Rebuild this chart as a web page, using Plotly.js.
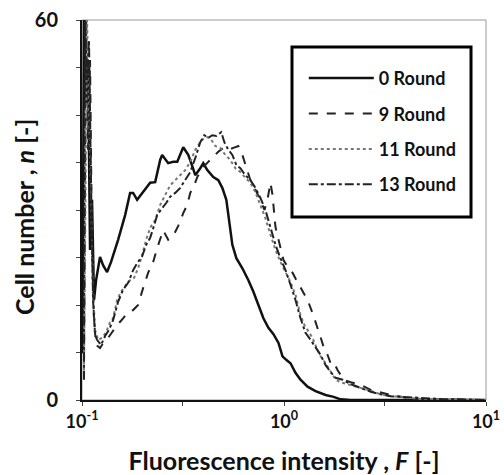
<!DOCTYPE html>
<html>
<head>
<meta charset="utf-8">
<script src="https://cdn.plot.ly/plotly-3.0.1.min.js"></script>
<style>html,body{margin:0;padding:0;background:#fff;}#chart{width:504px;height:475px;}</style>
</head>
<body>
<div id="chart"></div>
<script>
// Series names
const seriesNames = ['0 Round', '9 Round', '11 Round', '13 Round'];

// 0 Round
const F0 = [0.1005,0.1023,0.1047,0.1071,0.1096,0.1121,0.1147,0.1174,0.1228,0.1271,0.1331,0.1393,0.1509,0.1635,0.1730,0.1791,0.1875,0.2054,0.2175,0.2303,0.2438,0.2494,0.2671,0.2828,0.2961,0.3171,0.3357,0.3474,0.3636,0.3850,0.3985,0.4171,0.4467,0.4729,0.4950,0.5182,0.5363,0.5550,0.5809,0.6221,0.6663,0.7055,0.7470,0.7909,0.8374,0.8869,0.9390,0.9830,1.029,1.077,1.140,1.207,1.308,1.433,1.607,1.761,1.907,2.138,10];
const N0 = [7.4,60,47.4,53.7,23.7,31.6,15.8,18.9,22.6,21.3,20.2,21.8,25.3,29.2,32.7,32.7,31.6,33.2,34.3,34.4,37.9,38.7,37.4,37.6,37.6,39.9,38.7,37.4,35.5,36.6,37.4,36.3,35.2,34.7,33.5,31.6,28.4,24.5,22.4,20.8,18.9,17.1,15.0,12.9,11.4,10.4,9.0,6.9,6.3,5.8,4.3,3.2,2.1,1.4,0.8,0.5,0.1,0,0];

// 9 Round
const F9 = [0.1023,0.1047,0.1071,0.1096,0.1121,0.1147,0.1174,0.1228,0.1286,0.1346,0.1409,0.1492,0.1597,0.1691,0.1791,0.1896,0.2008,0.2126,0.2251,0.2356,0.2523,0.2671,0.2828,0.2995,0.3171,0.3319,0.3435,0.3595,0.3721,0.3985,0.4219,0.4467,0.4729,0.5007,0.5302,0.5613,0.5943,0.6221,0.6512,0.6817,0.7218,0.7642,0.8000,0.8279,0.8570,0.8769,0.9074,0.9498,0.9943,1.053,1.102,1.153,1.207,1.264,1.308,1.385,1.466,1.518,1.570,1.644,1.701,1.761,1.843,1.974,2.138,2.397,2.687,2.911,3.190,3.378,3.786,4.102,4.759,5.980,7.514,10];
const N9 = [6.3,60,39.5,53.7,23.7,12.6,8.7,8.2,9.2,9.8,10.7,11.8,12.9,13.9,14.2,15.0,17.7,20.1,21.8,24.0,26.8,25.3,25.9,27.5,29.5,30.8,32.7,33.9,35.2,36.8,37.6,38.4,39.2,39.8,39.5,39.8,40.1,38.7,36.6,34.7,33.2,31.6,30.0,31.6,34.3,32.4,27.3,24.5,22.1,20.8,20.1,18.9,17.8,16.6,15.8,13.7,11.5,9.9,8.4,7.1,5.8,6.0,4.7,3.2,2.8,2.4,1.6,1.3,0.9,0.8,0.5,0.3,0.16,0.1,0.1,0];

// 11 Round
const F11 = [0.1023,0.1047,0.1059,0.1083,0.1108,0.1134,0.1160,0.1201,0.1257,0.1316,0.1377,0.1425,0.1492,0.1561,0.1653,0.1730,0.1811,0.1896,0.1985,0.2078,0.2175,0.2303,0.2438,0.2581,0.2733,0.2894,0.3064,0.3244,0.3435,0.3636,0.3850,0.4030,0.4171,0.4366,0.4570,0.4839,0.5123,0.5424,0.5743,0.6081,0.6438,0.6817,0.7218,0.7642,0.8092,0.8570,0.9074,0.9607,1.017,1.077,1.140,1.207,1.264,1.323,1.385,1.450,1.518,1.607,1.701,1.801,1.907,2.066,2.264,2.596,3.013,3.378,3.786,4.759,6.704,10];
const N11 = [4.7,53.7,60,47.4,31.6,17.4,11.1,9.5,9.8,10.7,12.3,12.9,15.8,17.1,18.2,18.9,19.3,20.8,22.9,25.3,27.2,28.4,30.8,32.4,33.9,34.7,35.5,36.3,37.6,39.5,40.7,41.4,41.5,41.1,40.1,39.8,38.7,37.9,36.6,36.0,35.1,34.3,32.8,30.8,28.7,26.1,23.7,21.8,20.1,18.6,16.6,13.4,11.8,10.7,9.8,8.2,6.9,5.8,4.4,3.2,2.8,2.5,2.1,1.6,0.9,0.6,0.5,0.16,0.1,0];

// 13 Round
const F13 = [0.1023,0.1035,0.1059,0.1083,0.1108,0.1134,0.1160,0.1187,0.1243,0.1301,0.1361,0.1425,0.1509,0.1597,0.1691,0.1791,0.1875,0.1985,0.2078,0.2175,0.2277,0.2356,0.2494,0.2611,0.2733,0.2894,0.3064,0.3244,0.3435,0.3636,0.3850,0.4030,0.4219,0.4416,0.4622,0.4894,0.5065,0.5302,0.5550,0.5809,0.6081,0.6438,0.6817,0.7218,0.7642,0.8092,0.8570,0.9074,0.9607,1.017,1.077,1.140,1.207,1.278,1.354,1.433,1.518,1.607,1.701,1.801,1.951,2.138,2.397,2.687,3.013,3.378,3.786,4.759,5.980,7.514,10];
const N13 = [3.2,60,50.5,56.8,34.7,15.8,10.3,9.5,8.7,10.1,11.1,12.6,15.5,17.4,18.5,20.5,21.6,22.7,24.5,25.6,27.6,29.2,30.3,31.1,32.1,32.7,33.5,34.7,36.0,38.2,40.7,41.8,41.4,41.8,41.7,42.3,40.7,39.5,38.7,37.1,36.6,35.5,34.7,33.5,31.9,30.0,27.2,24.5,22.4,20.5,18.2,15.8,12.9,10.6,9.5,8.4,7.1,5.5,4.4,3.5,3.2,2.5,1.9,1.3,0.9,0.6,0.5,0.3,0.16,0.1,0];

// Axis ticks and titles
const xTickVals = [0.1, 1, 10];
const xTickText = ['10<sup>-1</sup>', '10<sup>0</sup>', '10<sup>1</sup>'];
const xMinorVals = [0.3162, 3.162];
const yTickVals = [0, 60];
const yTickText = ['0', '60'];
const yMinorVals = [7.5, 15, 22.5, 30, 37.5, 45, 52.5];
const xTitle = 'Fluorescence intensity , <i>F</i> [-]';
const yTitle = 'Cell number , <i>n</i> [-]';

const FONT = 'Lato, "Open Sans", sans-serif';

const styles = [
  {color: '#111', width: 2.5, dash: 'solid'},
  {color: '#222', width: 2, dash: 'dash'},
  {color: '#777', width: 2, dash: 'dot'},
  {color: '#222', width: 2, dash: 'dashdot'}
];
const xs = [F0, F9, F11, F13];
const ys = [N0, N9, N11, N13];

const traces = seriesNames.map((name, i) => ({
  x: xs[i], y: ys[i], name: name, type: 'scatter', mode: 'lines',
  line: styles[i], legendgroup: 'g' + i, hoverinfo: 'skip'
}));

const layout = {
  width: 504, height: 475,
  margin: {l: 82, r: 18, t: 20, b: 75},
  paper_bgcolor: '#fff', plot_bgcolor: '#fff',
  font: {family: FONT, color: '#111'},
  showlegend: true,
  legend: {
    x: 0.549, y: 0.895, xanchor: 'left', yanchor: 'top',
    bgcolor: 'rgba(0,0,0,0)', borderwidth: 0,
    font: {family: FONT, size: 18, color: '#111', weight: 700},
    traceorder: 'grouped', tracegroupgap: 9, itemwidth: 65
  },
  xaxis: {
    type: 'log', range: [-1, 1],
    tickmode: 'array', tickvals: xTickVals, ticktext: xTickText,
    ticks: 'outside', ticklen: 4, tickcolor: '#444',
    minor: {tickmode: 'array', tickvals: xMinorVals, ticks: 'outside', ticklen: 4, tickcolor: '#444', showgrid: false},
    showline: true, linecolor: '#111', linewidth: 2,
    showgrid: false, zeroline: false,
    tickfont: {family: FONT, size: 18, color: '#111', weight: 700},
    title: {text: xTitle, standoff: 22,
            font: {family: FONT, size: 25, color: '#111', weight: 700}}
  },
  yaxis: {
    range: [0, 60],
    tickmode: 'array', tickvals: yTickVals, ticktext: yTickText,
    ticks: 'outside', ticklen: 4, tickcolor: '#444',
    minor: {tickmode: 'array', tickvals: yMinorVals, ticks: 'outside', ticklen: 4, tickcolor: '#444', showgrid: false},
    showline: true, linecolor: '#111', linewidth: 2,
    showgrid: false, zeroline: false,
    ticklabelstandoff: 14,
    tickfont: {family: FONT, size: 20, color: '#111', weight: 700}
  },
  annotations: [
    {text: yTitle, xref: 'paper', yref: 'paper', x: 0, y: 0.5,
     xshift: -58, yshift: -7, xanchor: 'center', yanchor: 'middle',
     textangle: -90, showarrow: false,
     font: {family: FONT, size: 25, color: '#111', weight: 700}}
  ],
  shapes: [
    {type: 'rect', xref: 'paper', yref: 'paper', x0: 0, x1: 1, y0: 0, y1: 1,
     line: {color: '#999', width: 1}, layer: 'below'},
    {type: 'rect', xref: 'paper', yref: 'paper', x0: 0.5198, x1: 0.9629, y0: 0.4816, y1: 0.9289,
     line: {color: '#000', width: 3}, fillcolor: '#fff', layer: 'above'}
  ]
};

Plotly.newPlot('chart', traces, layout, {displayModeBar: false, staticPlot: true});
</script>
</body>
</html>
